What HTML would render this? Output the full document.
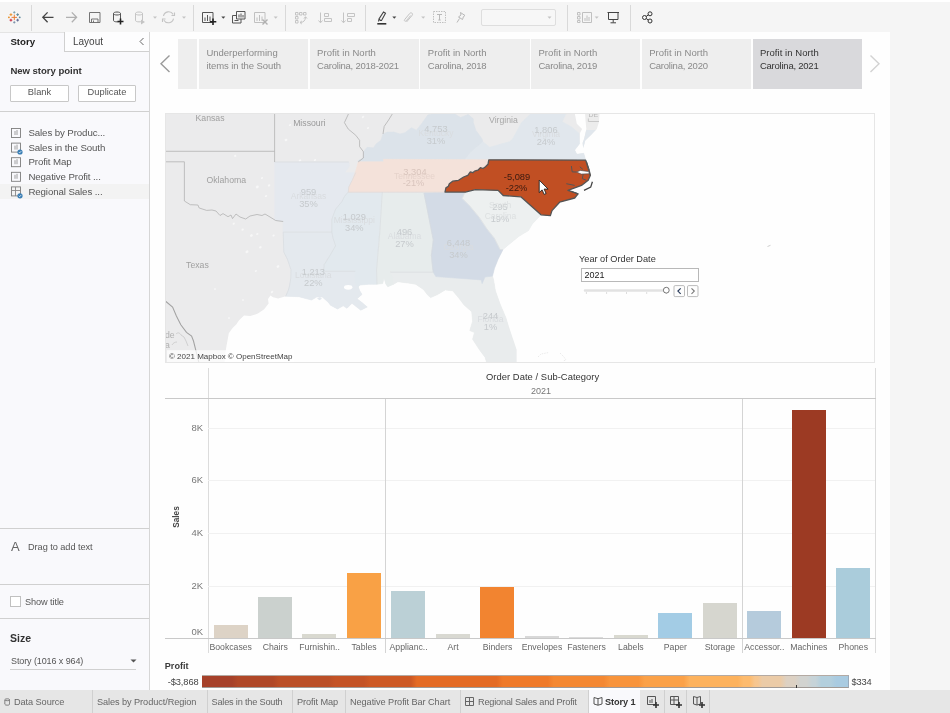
<!DOCTYPE html>
<html lang="en">
<head>
<meta charset="utf-8">
<title>Story 1 - Tableau</title>
<style>
html,body{margin:0;padding:0;}
body{width:950px;height:713px;overflow:hidden;background:#f5f5f5;font-family:"Liberation Sans",sans-serif;font-size:10px;color:#333;position:relative;}
.abs{position:absolute;}
.t{position:absolute;white-space:nowrap;line-height:12px;}
#topstrip{left:0;top:0;width:950px;height:2px;background:#fff;}
#toolbar{left:0;top:2px;width:950px;height:30px;background:#f5f5f5;}
.tsep{position:absolute;top:5px;width:1px;height:26px;background:#d9d9d9;}
#left{left:0;top:32px;width:149px;height:658px;background:#f9f9fc;border-right:1px solid #d6d6d6;box-shadow:inset 0 1px 0 #e4e4e4;}
#canvas{left:150px;top:32px;width:740px;height:658px;background:#fefefe;}
#bottombar{left:0;top:690px;width:950px;height:23px;background:#e6e6e6;}
.hr{position:absolute;left:0;width:149px;height:1px;background:#d0d0d0;}
.btn{position:absolute;top:53px;height:15px;border:1px solid #c8c8c8;background:#fff;border-radius:1px;text-align:center;line-height:13px;font-size:9.3px;color:#555;}
.sp{position:absolute;top:38.7px;height:50.7px;width:109.2px;background:#eeeeee;color:#8a8a8a;font-size:9.5px;line-height:13px;}
.sp span{position:absolute;left:7.4px;top:7.3px;white-space:nowrap;}
.li{position:absolute;left:28.4px;font-size:9.7px;letter-spacing:-0.1px;color:#555;white-space:nowrap;line-height:12px;}
.tab{position:absolute;top:0;height:23px;line-height:25px;font-size:9.2px;letter-spacing:-0.08px;color:#666;white-space:nowrap;border-right:1px solid #d0d0d0;box-sizing:border-box;}
.cat{position:absolute;top:641px;width:46px;text-align:center;font-size:8.7px;color:#666;line-height:12px;white-space:nowrap;}
.ax{position:absolute;width:20px;text-align:right;left:183px;font-size:9.5px;color:#777;line-height:12px;}
.grid{position:absolute;left:208px;width:667px;height:1px;background:#f1f1f1;}
.bar{position:absolute;width:34px;}
</style>
</head>
<body>
<div id="topstrip" class="abs"></div>
<div id="toolbar" class="abs">
<div class="tsep" style="left:31px;top:3px;"></div>
<div class="tsep" style="left:193px;top:3px;"></div>
<div class="tsep" style="left:285px;top:3px;"></div>
<div class="tsep" style="left:365px;top:3px;"></div>
<div class="tsep" style="left:567px;top:3px;"></div>
<div class="tsep" style="left:630px;top:3px;"></div>
<svg class="abs" style="left:0;top:0" width="950" height="30" viewBox="0 2 950 30">
 <!-- logo -->
 <g stroke-width="1.1" fill="none" transform="translate(14.3 17.3) scale(0.86) translate(-14.3 -17.3)">
  <path d="M14.3 14.2v6.4M11.1 17.4h6.4" stroke="#e8762c"/>
  <path d="M14.3 10.3v2.6M13 11.6h2.6" stroke="#7aa2b0"/>
  <path d="M14.3 21.9v2.6M13 23.2h2.6" stroke="#7a90a8"/>
  <path d="M10.4 12.6v3.200M8.800 14.2h3.200" stroke="#eb9129" />
  <path d="M18.2 12.6v3.200M16.600 14.2h3.200" stroke="#5b879b"/>
  <path d="M10.4 19v3.200M8.800 20.6h3.200" stroke="#c72035"/>
  <path d="M18.2 19v3.200M16.600 20.6h3.200" stroke="#5b6591"/>
  <path d="M8 16.4v2M7 17.4h2" stroke="#eb9129"/>
  <path d="M20.600 16.4v2M19.600 17.4h2" stroke="#5b879b"/>
 </g>
 <!-- back / forward -->
 <path d="M53.5 17.3H42.8M47.6 12.4L42.8 17.3L47.6 22.2" fill="none" stroke="#444" stroke-width="1.3"/>
 <path d="M66 17.3H76.6M71.8 12.4L76.6 17.3L71.8 22.2" fill="none" stroke="#b0b0b0" stroke-width="1.3"/>
 <!-- save -->
 <path d="M89.5 12.5h10.5v10h-10.5z M91.5 22.5v-3.500h6.500v3.500 M93.500 22.500v-2" fill="none" stroke="#666" stroke-width="0.9"/>
 <!-- new data source -->
 <path d="M113.5 13.5v7c0 1.8 7 1.8 7 0v-7 M113.5 13.5c0 -2 7 -2 7 0c0 2 -7 2 -7 0" fill="none" stroke="#555" stroke-width="1"/>
 <path d="M120.5 18.5v6M117.5 21.5h6" stroke="#222" stroke-width="1.6" fill="none"/>
 <!-- disabled ds -->
 <path d="M135.5 13.5v7c0 1.8 7 1.8 7 0v-7 M135.5 13.5c0 -2 7 -2 7 0c0 2 -7 2 -7 0" fill="none" stroke="#c4c4c4" stroke-width="1"/>
 <path d="M141 19.5l4 2.5l-4 2.5z" fill="#c4c4c4"/>
 <path d="M153 16.5h4l-2 2.2z" fill="#c4c4c4"/>
 <!-- refresh -->
 <path d="M163.5 16a5.2 5.2 0 0 1 9.6 -1.6 M173.5 18.6a5.2 5.2 0 0 1 -9.6 1.6" fill="none" stroke="#c4c4c4" stroke-width="1.1"/>
 <path d="M174.5 12.5v3h-3M162.5 22v-3h3" fill="none" stroke="#c4c4c4" stroke-width="1.1"/>
 <path d="M182 16.5h4l-2 2.2z" fill="#c4c4c4"/>
 <!-- new worksheet -->
 <path d="M202.5 12.5h10.5v10h-10.5z" fill="none" stroke="#555"/>
 <path d="M205 17.5v3.5M207.5 15v6M210 16.500v4.500" stroke="#555" fill="none"/>
 <path d="M213 18.500v6.500M209.800 21.700h6.500" stroke="#222" stroke-width="1.6" fill="none"/>
 <path d="M221.300 16.500h4l-2 2.200z" fill="#444"/>
 <!-- duplicate -->
 <path d="M236.500 11.500h8.500v7.500h-8.500z M232.500 15.500h4 M232.500 15.500v7.500h8.500v-4" fill="none" stroke="#555"/>
 <path d="M239 14.500v3M241 13.500v4M243 15v2.500 M234.500 20.500h4" stroke="#555" fill="none"/>
 <!-- clear -->
 <path d="M254.500 12.500h10.500v10h-10.500z" fill="none" stroke="#c0c0c0"/>
 <path d="M257 17.500v3.500M259.500 15v6M262 16.500v4.500" stroke="#c0c0c0" fill="none"/>
 <path d="M262.500 19.500l5 5M267.500 19.500l-5 5" stroke="#b0b0b0" stroke-width="1.400" fill="none"/>
 <path d="M273.700 16.500h4l-2 2.200z" fill="#c4c4c4"/>
 <!-- swap -->
 <path d="M295.500 12.500h2.500v2.500h-2.500zM299.500 12.500h2.500v2.500h-2.500zM303.500 12.500h2.500v2.500h-2.500zM295.500 16.500h2.500v2.500h-2.500zM295.500 20.500h2.500v2.500h-2.500z" fill="none" stroke="#c4c4c4"/>
 <path d="M300 22.500c3.500 0 5.500 -2 5.500 -5.500 M304 18.500l1.500 -1.800l1.500 1.800 M301.800 21l-1.800 1.500l1.800 1.500" fill="none" stroke="#c4c4c4"/>
 <!-- sort asc -->
 <path d="M320.500 12.500v10 M318.500 20.500l2 2.300l2 -2.300" fill="none" stroke="#c4c4c4"/>
 <path d="M324.500 13.500h4v3h-4zM324.500 18.500h7v3h-7z" fill="none" stroke="#c4c4c4"/>
 <!-- sort desc -->
 <path d="M343.500 12.500v10 M341.500 20.500l2 2.300l2 -2.300" fill="none" stroke="#c4c4c4"/>
 <path d="M347.500 13.500h7v3h-7zM347.500 18.500h4v3h-4z" fill="none" stroke="#c4c4c4"/>
 <!-- highlighter -->
 <path d="M380.500 20.500l-1.500 -1.500l4.500 -7l2 1.300l-4 7.200z M379 19l-0.500 2.500" fill="none" stroke="#444" stroke-width="1.100"/>
 <path d="M377.300 23.800h9" stroke="#333" stroke-width="1.600"/>
 <path d="M392.300 16.500h4l-2 2.200z" fill="#444"/>
 <!-- clip -->
 <path d="M406.500 22l5.500 -6.500c1.500 -1.800 -0.800 -3.800 -2.300 -2l-5 6c-1 1.200 0.500 2.500 1.500 1.300l4.500 -5.300" fill="none" stroke="#c4c4c4"/>
 <path d="M421.200 16.500h4l-2 2.200z" fill="#c4c4c4"/>
 <!-- T -->
 <rect x="433.500" y="11.500" width="12" height="11" fill="none" stroke="#c0c0c0" stroke-dasharray="1.500 1"/>
 <path d="M437 14.500h5M439.500 14.500v5.500M438.300 20h2.400" fill="none" stroke="#b8b8b8"/>
 <!-- pin -->
 <path d="M460.500 12.500l4.500 3l-1.500 1l-1 3l-4 -2.500l2.500 -2z M459.500 18.500l-2.500 4" fill="none" stroke="#b8b8b8"/>
 <!-- select -->
 <rect x="481.500" y="9.500" width="74" height="16" rx="1.500" fill="#f7f7f7" stroke="#dedede"/>
 <path d="M547.500 16.500h4l-2 2.200z" fill="#c4c4c4"/>
 <!-- show me -->
 <path d="M577.500 12.500h2.500v2.500h-2.500zM577.500 16.500h2.500v2.500h-2.500zM577.500 20.500h2.500v2h-2.500z M582.500 12.500h9v10h-9z" fill="none" stroke="#c0c0c0"/>
 <path d="M585 18v3M587 15.500v5.500M589 17v4" stroke="#c0c0c0" fill="none"/>
 <path d="M594.700 16.500h4l-2 2.200z" fill="#c4c4c4"/>
 <!-- presentation -->
 <path d="M607.500 12.500h11.500 M608.500 12.500v7h9.500v-7 M613.200 19.500v3 M610.500 22.800h5.500" fill="none" stroke="#444" stroke-width="1"/>
 <!-- share -->
 <circle cx="644.500" cy="17.500" r="2" fill="none" stroke="#333" stroke-width="1"/>
 <circle cx="650" cy="13.800" r="2" fill="none" stroke="#333" stroke-width="1"/>
 <circle cx="650" cy="21" r="2" fill="none" stroke="#333" stroke-width="1"/>
 <path d="M646.200 16.400l2.200 -1.500M646.200 18.600l2.200 1.400" stroke="#333" stroke-width="1"/>
</svg>

</div>
<div id="left" class="abs">
<div class="abs" style="left:64px;top:0;width:84px;height:19px;border-left:1px solid #d0d0d0;border-bottom:1px solid #d0d0d0;background:#fdfdfe;"></div>
<div class="t" style="left:10.4px;top:4px;font-weight:bold;font-size:9.7px;color:#222;">Story</div>
<div class="t" style="left:73px;top:4px;font-size:10px;color:#444;">Layout</div>
<svg class="abs" style="left:138px;top:5px" width="8" height="9" viewBox="0 0 8 9"><path d="M5.5 1 L2 4.5 L5.5 8" fill="none" stroke="#666" stroke-width="1"/></svg>
<div class="t" style="left:10.4px;top:32.8px;font-weight:bold;font-size:9.6px;letter-spacing:-0.05px;color:#333;">New story point</div>
<div class="btn" style="left:10px;width:57px;">Blank</div>
<div class="btn" style="left:78px;width:56px;">Duplicate</div>
<div class="hr" style="top:79px;"></div>
<div class="abs" style="left:0;top:152px;width:149px;height:15px;background:#f3f3f3;"></div>
<svg class="abs" style="left:10px;top:94.9px" width="14" height="72" viewBox="0 0 14 72">
 <g fill="none" stroke="#7d7d7d" stroke-width="0.9">
  <rect x="1.5" y="1.5" width="9" height="9"/><rect x="1.5" y="16.1" width="9" height="9"/><rect x="1.5" y="30.7" width="9" height="9"/><rect x="1.5" y="45.3" width="9" height="9"/><rect x="1.5" y="59.9" width="9" height="9"/>
  <path d="M1.5 63.5h9M5.5 60v9" stroke="#888"/>
 </g>
 <g stroke="#888" stroke-width="0.8">
  <path d="M5 4v4M7 3v5M5 18.6v4M7 17.6v5M5 33.2v4M7 32.2v5M5 47.8v4M7 46.8v5"/>
 </g>
 <circle cx="10" cy="25" r="2.6" fill="#3b7fb5"/><circle cx="10" cy="68.8" r="2.6" fill="#3b7fb5"/>
 <path d="M8.8 25 l0.9 0.9 l1.6 -1.8" fill="none" stroke="#fff" stroke-width="0.7"/>
 <path d="M8.8 68.8 l0.9 0.9 l1.6 -1.8" fill="none" stroke="#fff" stroke-width="0.7"/>
</svg>
<div class="li" style="top:95px;">Sales by Produc...</div>
<div class="li" style="top:110px;">Sales in the South</div>
<div class="li" style="top:124px;">Profit Map</div>
<div class="li" style="top:139px;">Negative Profit ...</div>
<div class="li" style="top:154px;">Regional Sales ...</div>
<div class="hr" style="top:496px;"></div>
<div class="t" style="left:11px;top:508px;font-size:13px;color:#666;line-height:14px;">A</div>
<div class="t" style="left:28px;top:509px;font-size:9.2px;letter-spacing:-0.05px;color:#555;">Drag to add text</div>
<div class="hr" style="top:552px;"></div>
<div class="abs" style="left:10px;top:564px;width:9px;height:9px;border:1px solid #c0c0c0;background:#fff;"></div>
<div class="t" style="left:25px;top:563px;font-size:9.2px;letter-spacing:-0.1px;color:#555;margin-top:0.5px;">Show title</div>
<div class="hr" style="top:586px;"></div>
<div class="t" style="left:10px;top:600px;font-weight:bold;font-size:10.5px;color:#333;">Size</div>
<div class="t" style="left:11px;top:623px;font-size:9px;letter-spacing:-0.1px;color:#555;">Story (1016 x 964)</div>
<div class="abs" style="left:10px;top:637px;width:126px;height:1px;background:#d0d0d0;"></div>
<svg class="abs" style="left:130px;top:627px" width="7" height="4" viewBox="0 0 7 4"><path d="M0.5 0.5h6L3.5 3.5z" fill="#555"/></svg>

</div>
<div id="canvas" class="abs"></div>
<svg class="abs" style="left:157px;top:52px" width="16" height="24" viewBox="0 0 16 24"><path d="M12.5 3.5 L4 11.8 L12.5 20" fill="none" stroke="#9a9a9a" stroke-width="1.4"/></svg>
<svg class="abs" style="left:867px;top:52px" width="16" height="24" viewBox="0 0 16 24"><path d="M3.5 3.5 L12 11.8 L3.5 20" fill="none" stroke="#d2d2d2" stroke-width="1.4"/></svg>
<div class="sp" style="left:178px;width:18.7px;"></div>
<div class="sp" style="left:199.0px;"><span><i style="font-style:normal;letter-spacing:0px">Underperforming</i><br><i style="font-style:normal;letter-spacing:-0.08px">items in the South</i></span></div>
<div class="sp" style="left:309.7px;"><span><i style="font-style:normal;letter-spacing:0.05px">Profit in North</i><br><i style="font-style:normal;letter-spacing:-0.23px">Carolina, 2018-2021</i></span></div>
<div class="sp" style="left:420.4px;"><span><i style="font-style:normal;letter-spacing:0.05px">Profit in North</i><br><i style="font-style:normal;letter-spacing:-0.23px">Carolina, 2018</i></span></div>
<div class="sp" style="left:531.1px;"><span><i style="font-style:normal;letter-spacing:0.05px">Profit in North</i><br><i style="font-style:normal;letter-spacing:-0.23px">Carolina, 2019</i></span></div>
<div class="sp" style="left:641.8px;"><span><i style="font-style:normal;letter-spacing:0.05px">Profit in North</i><br><i style="font-style:normal;letter-spacing:-0.23px">Carolina, 2020</i></span></div>
<div class="sp" style="left:752.5px;background:#d9d9dc;color:#333;"><span><i style="font-style:normal;letter-spacing:0.05px">Profit in North</i><br><i style="font-style:normal;letter-spacing:-0.23px">Carolina, 2021</i></span></div>

<svg class="abs" style="left:165px;top:113px;" width="710" height="250" viewBox="165 113 710 250">
<rect x="165" y="113" width="710" height="250" fill="#fefefe"/>
<path d="M165.0 113.0 L574.7 113.0 L576.8 123.8 L582.1 129.0 L580.0 133.0 L579.5 143.8 L574.7 150.1 L576.8 154.3 L583.7 153.3 L585.7 160.1 L588.2 168.5 L590.4 175.3 L588.2 180.3 L581.5 185.4 L574.7 187.9 L568.0 190.4 L573.1 192.1 L578.1 193.8 L574.7 198.0 L559.6 202.2 L552.0 210.6 L550.3 215.7 L541.0 214.8 L532.3 224.0 L528.5 230.6 L519.0 236.3 L509.6 243.9 L503.0 249.6 L498.2 259.0 L494.4 268.5 L492.5 276.1 L493.5 279.5 L495.4 290.8 L500.1 304.1 L505.8 317.4 L508.6 326.8 L512.4 338.2 L516.2 349.6 L516.2 363.0 L486.8 363.0 L485.0 357.2 L479.3 349.6 L472.6 339.2 L474.5 332.5 L469.8 330.6 L472.6 321.2 L471.7 311.7 L464.1 305.0 L458.4 297.5 L452.7 290.8 L445.2 289.9 L437.6 294.6 L430.7 297.5 L428.2 295.6 L423.2 289.3 L415.6 284.2 L408.0 283.0 L397.9 281.7 L393.5 284.2 L387.8 286.7 L385.9 284.2 L384.0 277.9 L382.7 283.6 L377.0 284.2 L368.4 284.3 L360.0 285.0 L358.3 286.8 L359.6 290.6 L362.0 294.4 L357.0 298.8 L362.0 302.6 L367.2 307.0 L360.8 310.2 L352.0 303.3 L347.0 308.3 L343.2 305.8 L337.5 309.0 L330.5 305.2 L328.0 302.0 L322.3 297.0 L316.6 297.0 L311.6 300.1 L299.0 296.7 L285.7 296.3 L278.1 298.4 L273.0 297.2 L270.5 295.6 L268.0 299.0 L268.6 303.5 L264.2 309.2 L257.9 313.6 L250.3 316.1 L244.0 315.5 L238.9 320.5 L236.4 324.3 L232.6 328.1 L228.8 333.2 L227.6 340.0 L226.3 347.0 L225.3 354.0 L224.5 363.0 L165.0 363.0Z" fill="#ebebec"/>
<path d="M585.0 113.0 L599.5 113.0 L599.0 121.7 L596.8 129.0 L590.5 135.4 L585.3 140.6 L583.2 148.0 L582.6 143.0 L584.2 138.5 L586.3 129.0 L585.5 120.0Z" fill="#ececec"/>
<clipPath id="landclip"><path d="M165.0 113.0 L574.7 113.0 L576.8 123.8 L582.1 129.0 L580.0 133.0 L579.5 143.8 L574.7 150.1 L576.8 154.3 L583.7 153.3 L585.7 160.1 L588.2 168.5 L590.4 175.3 L588.2 180.3 L581.5 185.4 L574.7 187.9 L568.0 190.4 L573.1 192.1 L578.1 193.8 L574.7 198.0 L559.6 202.2 L552.0 210.6 L550.3 215.7 L541.0 214.8 L532.3 224.0 L528.5 230.6 L519.0 236.3 L509.6 243.9 L503.0 249.6 L498.2 259.0 L494.4 268.5 L492.5 276.1 L493.5 279.5 L495.4 290.8 L500.1 304.1 L505.8 317.4 L508.6 326.8 L512.4 338.2 L516.2 349.6 L516.2 363.0 L486.8 363.0 L485.0 357.2 L479.3 349.6 L472.6 339.2 L474.5 332.5 L469.8 330.6 L472.6 321.2 L471.7 311.7 L464.1 305.0 L458.4 297.5 L452.7 290.8 L445.2 289.9 L437.6 294.6 L430.7 297.5 L428.2 295.6 L423.2 289.3 L415.6 284.2 L408.0 283.0 L397.9 281.7 L393.5 284.2 L387.8 286.7 L385.9 284.2 L384.0 277.9 L382.7 283.6 L377.0 284.2 L368.4 284.3 L360.0 285.0 L358.3 286.8 L359.6 290.6 L362.0 294.4 L357.0 298.8 L362.0 302.6 L367.2 307.0 L360.8 310.2 L352.0 303.3 L347.0 308.3 L343.2 305.8 L337.5 309.0 L330.5 305.2 L328.0 302.0 L322.3 297.0 L316.6 297.0 L311.6 300.1 L299.0 296.7 L285.7 296.3 L278.1 298.4 L273.0 297.2 L270.5 295.6 L268.0 299.0 L268.6 303.5 L264.2 309.2 L257.9 313.6 L250.3 316.1 L244.0 315.5 L238.9 320.5 L236.4 324.3 L232.6 328.1 L228.8 333.2 L227.6 340.0 L226.3 347.0 L225.3 354.0 L224.5 363.0 L165.0 363.0Z"/></clipPath>
<g fill="#fafafa" opacity="0.8"><ellipse cx="257.3" cy="186.9" rx="1.6" ry="1.28" transform="rotate(-35 257.3 186.9)"/><ellipse cx="269.1" cy="185.4" rx="1.3" ry="1.04" transform="rotate(-35 269.1 185.4)"/><ellipse cx="235.2" cy="155.9" rx="1.2" ry="0.96" transform="rotate(-35 235.2 155.9)"/><ellipse cx="233.7" cy="223.7" rx="1.2" ry="0.96" transform="rotate(-35 233.7 223.7)"/><ellipse cx="242.6" cy="229.6" rx="1.3" ry="1.04" transform="rotate(-35 242.6 229.6)"/><ellipse cx="251.4" cy="235.5" rx="1.5" ry="1.20" transform="rotate(-35 251.4 235.5)"/><ellipse cx="257.3" cy="234" rx="1.2" ry="0.96" transform="rotate(-35 257.3 234)"/><ellipse cx="273.6" cy="235.5" rx="1.2" ry="0.96" transform="rotate(-35 273.6 235.5)"/><ellipse cx="247" cy="251.8" rx="1.6" ry="1.28" transform="rotate(-35 247 251.8)"/><ellipse cx="260.3" cy="247.3" rx="1.4" ry="1.12" transform="rotate(-35 260.3 247.3)"/><ellipse cx="278" cy="266.5" rx="1.5" ry="1.20" transform="rotate(-35 278 266.5)"/><ellipse cx="255.9" cy="271" rx="1.1" ry="0.88" transform="rotate(-35 255.9 271)"/><ellipse cx="262" cy="178" rx="1.1" ry="0.88" transform="rotate(-35 262 178)"/><ellipse cx="266" cy="196" rx="1.2" ry="0.96" transform="rotate(-35 266 196)"/><ellipse cx="300" cy="160.5" rx="1.3" ry="1.04" transform="rotate(-35 300 160.5)"/><ellipse cx="315" cy="160" rx="1.2" ry="0.96" transform="rotate(-35 315 160)"/><ellipse cx="290" cy="125" rx="1.2" ry="0.96" transform="rotate(-35 290 125)"/><ellipse cx="286" cy="140" rx="1.4" ry="1.12" transform="rotate(-35 286 140)"/><ellipse cx="363" cy="117" rx="1.3" ry="1.04" transform="rotate(-35 363 117)"/><ellipse cx="368" cy="128" rx="1.1" ry="0.88" transform="rotate(-35 368 128)"/><ellipse cx="272" cy="292" rx="1.3" ry="1.04" transform="rotate(-35 272 292)"/><ellipse cx="243" cy="300" rx="1.0" ry="0.80" transform="rotate(-35 243 300)"/><ellipse cx="229" cy="318" rx="1.0" ry="0.80" transform="rotate(-35 229 318)"/><ellipse cx="215" cy="289" rx="1.0" ry="0.80" transform="rotate(-35 215 289)"/></g>
<path d="M595.8 130.1 L590.5 135.4 L585.3 140.6 L583.2 148.0 L582.6 143.0 L584.2 138.5 L586.3 130.0Z" fill="#e1e7ed"/>
<path d="M274.6 162.0 L348.8 162.0 L349.5 166.2 L345.0 172.5 L355.8 172.5 L352.0 180.7 L348.8 187.0 L348.2 192.1 L344.4 196.5 L341.9 201.6 L335.6 209.2 L331.8 219.3 L331.8 232.0 L283.2 232.1 L283.2 221.0 L278.0 221.0 L274.6 220.0Z" fill="#e5e9ef" stroke="#e5e9ef" stroke-width="0.6" stroke-linejoin="round"/>
<path d="M283.2 232.1 L331.8 232.0 L333.0 238.2 L335.6 245.8 L330.5 254.6 L324.2 264.7 L323.6 271.3 L355.2 271.3 L354.5 281.8 L357.0 286.8 L358.3 286.8 L359.6 290.6 L362.0 294.4 L357.0 298.8 L362.0 302.6 L367.2 307.0 L360.8 310.2 L352.0 303.3 L347.0 308.3 L343.2 305.8 L337.5 309.0 L330.5 305.2 L328.0 302.0 L322.3 297.0 L316.6 297.0 L311.6 300.1 L299.0 296.7 L285.7 296.3 L288.2 290.6 L289.5 286.0 L290.8 278.0 L291.0 269.8 L287.6 259.7 L283.8 252.0 L283.2 232.1Z" fill="#e4e9ee" stroke="#e4e9ee" stroke-width="0.6" stroke-linejoin="round"/>
<path d="M348.2 192.1 L382.3 192.1 L379.8 232.0 L376.6 269.8 L377.0 284.2 L368.4 284.3 L360.0 285.0 L358.3 286.8 L357.0 286.8 L354.5 281.8 L355.2 271.3 L323.6 271.3 L324.2 264.7 L330.5 254.6 L335.6 245.8 L333.0 238.2 L331.8 232.0 L331.8 219.3 L335.6 209.2 L341.9 201.6 L344.4 196.5 L348.2 192.1Z" fill="#e2e9ee" stroke="#e2e9ee" stroke-width="0.6" stroke-linejoin="round"/>
<path d="M382.3 192.4 L424.0 193.0 L433.3 240.0 L431.4 255.2 L432.6 267.8 L433.3 272.2 L390.3 272.2 L393.5 277.9 L393.5 284.2 L387.8 286.7 L385.9 284.2 L384.0 277.9 L382.7 283.6 L377.0 284.2 L376.6 269.8 L379.8 232.0 L382.3 192.1Z" fill="#e7ecec" stroke="#e7ecec" stroke-width="0.6" stroke-linejoin="round"/>
<path d="M433.3 272.2 L435.8 276.6 L481.2 279.9 L482.1 283.7 L485.0 277.0 L492.5 276.1 L493.5 279.5 L495.4 290.8 L500.1 304.1 L505.8 317.4 L508.6 326.8 L512.4 338.2 L516.2 349.6 L516.2 363.0 L486.8 363.0 L485.0 357.2 L479.3 349.6 L472.6 339.2 L474.5 332.5 L469.8 330.6 L472.6 321.2 L471.7 311.7 L464.1 305.0 L458.4 297.5 L452.7 290.8 L445.2 289.9 L437.6 294.6 L430.7 297.5 L428.2 295.6 L423.2 289.3 L415.6 284.2 L408.0 283.0 L397.9 281.7 L393.5 284.2 L393.5 277.9 L390.3 272.2Z" fill="#e9eced" stroke="#e9eced" stroke-width="0.6" stroke-linejoin="round"/>
<path d="M424.0 193.0 L465.3 192.1 L462.2 198.4 L469.8 206.0 L479.3 217.4 L486.8 228.7 L494.4 238.2 L500.1 249.6 L503.0 249.6 L498.2 259.0 L494.4 268.5 L492.5 276.1 L485.0 277.0 L482.1 283.7 L481.2 279.9 L435.8 276.6 L433.3 272.2 L432.6 267.8 L431.4 255.2 L433.3 240.0 L424.0 193.0Z" fill="#d3dbe6" stroke="#d3dbe6" stroke-width="0.6" stroke-linejoin="round"/>
<path d="M465.3 192.1 L475.4 189.6 L498.1 190.4 L503.2 195.5 L520.8 196.8 L541.0 214.8 L532.3 224.0 L528.5 230.6 L519.0 236.3 L509.6 243.9 L503.0 249.6 L500.1 249.6 L494.4 238.2 L486.8 228.7 L479.3 217.4 L469.8 206.0 L462.2 198.4 L465.3 192.1Z" fill="#edf0f0" stroke="#edf0f0" stroke-width="0.6" stroke-linejoin="round"/>
<path d="M464.4 159.5 L470.7 151.7 L482.7 141.6 L489.7 147.3 L501.0 144.1 L509.9 141.6 L512.6 139.0 L521.5 122.6 L531.6 113.0 L566.3 113.0 L562.1 121.7 L571.6 127.0 L579.0 133.3 L579.5 143.8 L574.7 150.1 L576.8 154.3 L583.7 153.3 L585.6 160.1 L488.4 160.1Z" fill="#e1e7ed" stroke="#e1e7ed" stroke-width="0.6" stroke-linejoin="round"/>
<path d="M363.4 151.7 L367.2 147.3 L373.4 147.9 L376.0 144.1 L381.0 140.3 L383.0 134.0 L387.4 132.1 L393.7 132.1 L400.0 134.0 L405.0 132.7 L411.4 127.7 L416.4 130.2 L421.5 123.9 L427.8 115.0 L435.4 113.0 L453.0 113.0 L460.6 117.6 L468.2 114.4 L473.3 118.8 L473.3 122.6 L475.8 130.2 L482.1 139.0 L482.7 141.6 L470.7 151.7 L464.4 159.5 L383.6 159.5 L383.6 161.8 L358.3 161.8 L358.3 160.5 L363.4 158.0Z" fill="#dce3ea" stroke="#dce3ea" stroke-width="0.6" stroke-linejoin="round"/>
<path d="M358.3 161.8 L383.6 161.8 L383.6 159.3 L488.8 159.8 L488.0 164.3 L485.5 166.8 L483.0 168.5 L480.4 167.7 L477.9 170.2 L474.5 171.1 L472.8 172.7 L470.3 171.9 L467.8 175.3 L463.6 177.0 L458.5 180.3 L452.6 181.2 L449.3 183.7 L448.4 186.2 L445.9 187.9 L445.0 192.1 L348.2 192.3 L348.8 187.0 L352.0 180.7 L355.8 170.6Z" fill="#f4e2da" stroke="#f4e2da" stroke-width="0.6" stroke-linejoin="round"/>
<path d="M355.8 172.5 L352.0 180.7 L348.8 187.0 L348.2 192.1 L344.4 196.5 L341.9 201.6 L335.6 209.2 L331.8 219.3 L331.8 232.0 L333.0 238.2 L335.6 245.8 L330.5 254.6 L324.2 264.7 L323.6 271.3 M382.3 192.1 L379.8 232.0 L376.6 269.8 L377.0 284.2 M424.0 193.0 L433.3 240.0 L431.4 255.2 L432.6 267.8 L433.3 272.2 M283.2 232.1H331.8 M323.6 271.3H355.2 M390.3 272.2H433.3 M465.3 192.1 L462.2 198.4 L469.8 206.0 L479.3 217.4 L486.8 228.7 L494.4 238.2 L500.1 249.6 L503.0 249.6 M274.6 162H348.8 M348.2 192.2H444.8 M283.2 232.1 L283.8 252.0 L287.6 259.7 L291.0 269.8 L290.8 278.0 L289.5 286.0 L288.2 290.6 L285.7 296.3" fill="none" stroke="#d6d9dc" stroke-width="0.7" opacity="0.8"/>
<ellipse cx="348.2" cy="287.3" rx="4.2" ry="2.4" fill="#fefefe"/>
<path d="M317 298.5l3 -1.5l2 1.8l-2.500 1.500z" fill="#e3e8ee"/>
<path d="M165 151.3H274.6 M274.6 113V162 M165 161.8H184.4V201 M184.4 201.0 L190.3 204.7 L197.9 205.0 L199.2 208.0 L206.7 210.4 L212.0 210.0 L216.0 211.0 L220.0 215.5 L223.0 213.6 L228.0 216.7 L231.0 215.0 L232.5 218.6 L236.0 214.0 L240.0 217.0 L245.7 219.0 L250.0 216.0 L257.0 214.5 L262.0 215.5 L265.0 214.0 L270.0 217.0 L275.7 220.5 L283.2 221.5 M348.8 113.2 L344.4 122.6 L348.2 129.0 L355.8 135.3 L359.6 140.3 L359.6 146.6 L363.4 151.7 L363.4 158.0 L358.3 161.8 M392.4 113.8 L388.6 120.0 L384.2 126.4 L383.0 134.0" fill="none" stroke="#b2b2b2" stroke-width="0.8"/>
<path d="M165.0 300.7 L172.6 307.0 L176.4 316.0 L180.8 324.7 L186.5 332.3 L191.6 336.0 L193.5 341.0 L195.4 348.7 L197.0 355.0 L199.0 363.0" fill="none" stroke="#a2a2a2" stroke-width="1.05"/>
<path d="M176 334c2 -2 4 -1 5 1l3 2l2 4l2 5 M172 345c1 -2 3 -3 5 -3" fill="none" stroke="#c4c4c4" stroke-width="0.7"/>
<path d="M445.0 192.1 L445.9 187.9 L448.4 186.2 L449.3 183.7 L452.6 181.2 L458.5 180.3 L463.6 177.0 L467.8 175.3 L470.3 171.9 L472.8 172.7 L474.5 171.1 L477.9 170.2 L480.4 167.7 L483.0 168.5 L485.5 166.8 L488.0 164.3 L488.8 159.8 L585.7 160.1 L588.2 168.5 L590.4 175.3 L588.2 180.3 L581.5 185.4 L574.7 187.9 L568.0 190.4 L573.1 192.1 L578.1 193.8 L574.7 198.0 L559.6 202.2 L552.0 210.6 L550.3 215.7 L541.0 214.8 L520.8 196.8 L503.2 195.5 L498.1 190.4 L475.4 189.6 L465.3 192.1Z" fill="#c14f23" stroke="#555" stroke-width="1.3" stroke-linejoin="round"/>
<path d="M576.4 172l4 -1.600l8.500 1.200l0.300 2.200l-8 0.300z" fill="#fefefe" stroke="#555" stroke-width="0.7"/>
<path d="M571.400 166l0.800 5.900l4.200 0.100 M579.800 166.800l3 2.500 M583.200 174.200l-0.900 4.400l4 1.700 M566.300 183.700l8.400 1.700 M571.400 191.300l6.700 2.500 M586.500 161.500l3 9l0.500 5" fill="none" stroke="#555" stroke-width="1"/>
<path d="M592.400 181.700L590.700 187.100L584 190.400" fill="none" stroke="#444" stroke-width="1.300"/>
<path d="M588.400 118.500V121.500H599" fill="none" stroke="#c0c0c0" stroke-width="0.8"/>
<path d="M538 357l3 -3l8 -1.500 M560 353l4 4l2 3l-3 1" fill="none" stroke="#e6e6e6" stroke-width="0.8" stroke-dasharray="1.5 1"/>
<path d="M767.500 246.500l3 -1.200" fill="none" stroke="#c8c8c8" stroke-width="0.9"/>
<text x="210" y="121" font-size="8.7" fill="#a0a0a0" text-anchor="middle" font-family="Liberation Sans, sans-serif" >Kansas</text>
<text x="309.3" y="126" font-size="8.7" fill="#9a9a9a" text-anchor="middle" font-family="Liberation Sans, sans-serif" >Missouri</text>
<text x="226.3" y="183.2" font-size="8.7" fill="#a0a0a0" text-anchor="middle" font-family="Liberation Sans, sans-serif" >Oklahoma</text>
<text x="197.4" y="267.8" font-size="8.7" fill="#a0a0a0" text-anchor="middle" font-family="Liberation Sans, sans-serif" >Texas</text>
<text x="489" y="123" font-size="8.7" fill="#a8a8a8" text-anchor="start" font-family="Liberation Sans, sans-serif" >Virginia</text>
<text x="165" y="337.5" font-size="8.7" fill="#b0b0b0" text-anchor="start" font-family="Liberation Sans, sans-serif" >de</text>
<text x="165" y="347.5" font-size="8.7" fill="#b0b0b0" text-anchor="start" font-family="Liberation Sans, sans-serif" >a</text>
<text x="588.4" y="117" font-size="7" fill="#b8b8b8" text-anchor="start" font-family="Liberation Sans, sans-serif" >DE</text>
<text x="308.5" y="198.5" font-size="8.5" fill="#d9dcdf" text-anchor="middle" font-family="Liberation Sans, sans-serif" >Arkansas</text>
<text x="308.5" y="195" font-size="9.3" fill="#c6cacd" text-anchor="middle" font-family="Liberation Sans, sans-serif" >959</text>
<text x="308.5" y="206.7" font-size="9.3" fill="#c6cacd" text-anchor="middle" font-family="Liberation Sans, sans-serif" >35%</text>
<text x="354.3" y="223.0" font-size="8.5" fill="#d9dcdf" text-anchor="middle" font-family="Liberation Sans, sans-serif" >Mississippi</text>
<text x="354.3" y="219.5" font-size="9.3" fill="#c6cacd" text-anchor="middle" font-family="Liberation Sans, sans-serif" >1,029</text>
<text x="354.3" y="231.2" font-size="9.3" fill="#c6cacd" text-anchor="middle" font-family="Liberation Sans, sans-serif" >34%</text>
<text x="313.3" y="278.0" font-size="8.5" fill="#d9dcdf" text-anchor="middle" font-family="Liberation Sans, sans-serif" >Louisiana</text>
<text x="313.3" y="274.5" font-size="9.3" fill="#c6cacd" text-anchor="middle" font-family="Liberation Sans, sans-serif" >1,213</text>
<text x="313.3" y="286.2" font-size="9.3" fill="#c6cacd" text-anchor="middle" font-family="Liberation Sans, sans-serif" >22%</text>
<text x="404.5" y="238.5" font-size="8.5" fill="#d9dcdf" text-anchor="middle" font-family="Liberation Sans, sans-serif" >Alabama</text>
<text x="404.5" y="235" font-size="9.3" fill="#c6cacd" text-anchor="middle" font-family="Liberation Sans, sans-serif" >496</text>
<text x="404.5" y="246.7" font-size="9.3" fill="#c6cacd" text-anchor="middle" font-family="Liberation Sans, sans-serif" >27%</text>
<text x="458.5" y="249.5" font-size="8.5" fill="#d9dcdf" text-anchor="middle" font-family="Liberation Sans, sans-serif" >Georgia</text>
<text x="458.5" y="246" font-size="9.3" fill="#c6cacd" text-anchor="middle" font-family="Liberation Sans, sans-serif" >6,448</text>
<text x="458.5" y="257.7" font-size="9.3" fill="#c6cacd" text-anchor="middle" font-family="Liberation Sans, sans-serif" >34%</text>
<text x="500" y="213.5" font-size="8.5" fill="#d9dcdf" text-anchor="middle" font-family="Liberation Sans, sans-serif" ></text>
<text x="500" y="210" font-size="9.3" fill="#c6cacd" text-anchor="middle" font-family="Liberation Sans, sans-serif" >295</text>
<text x="500" y="221.7" font-size="9.3" fill="#c6cacd" text-anchor="middle" font-family="Liberation Sans, sans-serif" >19%</text>
<text x="490.5" y="322.0" font-size="8.5" fill="#d9dcdf" text-anchor="middle" font-family="Liberation Sans, sans-serif" >Florida</text>
<text x="490.5" y="318.5" font-size="9.3" fill="#c6cacd" text-anchor="middle" font-family="Liberation Sans, sans-serif" >244</text>
<text x="490.5" y="330.2" font-size="9.3" fill="#c6cacd" text-anchor="middle" font-family="Liberation Sans, sans-serif" >1%</text>
<text x="436" y="135.5" font-size="8.5" fill="#d9dcdf" text-anchor="middle" font-family="Liberation Sans, sans-serif" >Kentucky</text>
<text x="436" y="132" font-size="9.3" fill="#c6cacd" text-anchor="middle" font-family="Liberation Sans, sans-serif" >4,753</text>
<text x="436" y="143.7" font-size="9.3" fill="#c6cacd" text-anchor="middle" font-family="Liberation Sans, sans-serif" >31%</text>
<text x="546" y="136.5" font-size="8.5" fill="#d9dcdf" text-anchor="middle" font-family="Liberation Sans, sans-serif" >Virginia</text>
<text x="546" y="133" font-size="9.3" fill="#c6cacd" text-anchor="middle" font-family="Liberation Sans, sans-serif" >1,806</text>
<text x="546" y="144.7" font-size="9.3" fill="#c6cacd" text-anchor="middle" font-family="Liberation Sans, sans-serif" >24%</text>
<text x="500" y="207.5" font-size="8.5" fill="#dde0e1" text-anchor="middle" font-family="Liberation Sans, sans-serif" >South</text>
<text x="500.5" y="218.5" font-size="8.5" fill="#dde0e1" text-anchor="middle" font-family="Liberation Sans, sans-serif" >Carolina</text>
<text x="414.5" y="178.5" font-size="8.5" fill="#e6d3cb" text-anchor="middle" font-family="Liberation Sans, sans-serif" >Tennessee</text>
<text x="415" y="175" font-size="9.3" fill="#d9c5bd" text-anchor="middle" font-family="Liberation Sans, sans-serif" >3,304</text>
<text x="413.5" y="186" font-size="9.3" fill="#d9c5bd" text-anchor="middle" font-family="Liberation Sans, sans-serif" >-21%</text>
<text x="517" y="179.8" font-size="9.3" fill="#3a1a10" text-anchor="middle" font-family="Liberation Sans, sans-serif" >-5,089</text>
<text x="516.5" y="191.3" font-size="9.3" fill="#3a1a10" text-anchor="middle" font-family="Liberation Sans, sans-serif" >-22%</text>
<rect x="167" y="350.2" width="127.500" height="12" fill="#ffffff" opacity="0.75"/>
<text x="169" y="359" font-size="8" fill="#444" text-anchor="start" font-family="Liberation Sans, sans-serif" textLength="123.500" lengthAdjust="spacingAndGlyphs">© 2021 Mapbox © OpenStreetMap</text>
<path d="M539.200 180.100v12.500l2.900 -2.700l2 4.500l2 -0.900l-2 -4.400h4z" fill="#fff" stroke="#222" stroke-width="0.9" stroke-linejoin="round"/>
</svg>
<div class="abs" style="left:165px;top:113px;width:710px;height:250px;box-sizing:border-box;border:1px solid #e6e6e6;pointer-events:none;"></div>
<div class="t" style="left:579px;top:252.500px;font-size:9.2px;color:#333;">Year of Order Date</div>
<div class="abs" style="left:581px;top:268px;width:118px;height:14px;box-sizing:border-box;border:1px solid #b8b8b8;background:#fff;"></div>
<div class="t" style="left:584.500px;top:269px;font-size:9px;color:#222;">2021</div>
<svg class="abs" style="left:580px;top:283px;" width="122" height="16" viewBox="580 283 122 16"><rect x="583.800" y="289.200" width="83" height="2.500" rx="1" fill="#e2e2e2"/><path d="M586.400 292v2M606.600 292v2M626.500 292v2M646.700 292v2M666.400 292v2" stroke="#d4d4d4" stroke-width="0.8"/><circle cx="666.300" cy="290.200" r="2.900" fill="#fff" stroke="#666" stroke-width="0.9"/><rect x="674" y="285.600" width="10.500" height="11" rx="1.200" fill="#fdfdfd" stroke="#aaa" stroke-width="0.8"/><rect x="687.500" y="285.600" width="10.500" height="11" rx="1.200" fill="#fdfdfd" stroke="#aaa" stroke-width="0.8"/><path d="M680.700 288.300l-2.800 2.800l2.800 2.800" fill="none" stroke="#2b3d5c" stroke-width="1.200"/><path d="M691.500 288.300l2.800 2.800l-2.800 2.800" fill="none" stroke="#777" stroke-width="1.100"/></svg>

<div class="abs" style="left:208px;top:368px;width:1px;height:285px;background:#dcdcdc;"></div>
<div class="abs" style="left:875px;top:368px;width:1px;height:285px;background:#dcdcdc;"></div>
<div class="grid" style="top:428px;"></div>
<div class="grid" style="top:480px;"></div>
<div class="grid" style="top:533px;"></div>
<div class="grid" style="top:586px;"></div>
<div class="abs" style="left:385px;top:398px;width:1px;height:255px;background:#d4d4d4;"></div>
<div class="abs" style="left:742px;top:398px;width:1px;height:255px;background:#d4d4d4;"></div>
<div class="abs" style="left:165px;top:398px;width:711px;height:1px;background:#c9c9c9;"></div>
<div class="bar" style="left:213.5px;top:625.2px;height:13.1px;background:#ddd3c6;"></div>
<div class="cat" style="left:207.7px;">Bookcases</div>
<div class="bar" style="left:258.0px;top:597.0px;height:41.3px;background:#cbd1ce;"></div>
<div class="cat" style="left:252.2px;">Chairs</div>
<div class="bar" style="left:302.4px;top:634.3px;height:4.0px;background:#d9d9d0;"></div>
<div class="cat" style="left:296.6px;">Furnishin..</div>
<div class="bar" style="left:346.9px;top:573.1px;height:65.2px;background:#f9a145;"></div>
<div class="cat" style="left:341.1px;">Tables</div>
<div class="bar" style="left:391.4px;top:591.0px;height:47.3px;background:#bbd0d6;"></div>
<div class="cat" style="left:385.6px;">Applianc..</div>
<div class="bar" style="left:435.9px;top:634.0px;height:4.3px;background:#d9d9d2;"></div>
<div class="cat" style="left:430.1px;">Art</div>
<div class="bar" style="left:480.3px;top:586.8px;height:51.5px;background:#f28430;"></div>
<div class="cat" style="left:474.5px;">Binders</div>
<div class="bar" style="left:524.8px;top:636.0px;height:2.3px;background:#d8d8d8;"></div>
<div class="cat" style="left:519.0px;">Envelopes</div>
<div class="bar" style="left:569.3px;top:637.0px;height:1.3px;background:#dcdcdc;"></div>
<div class="cat" style="left:563.5px;">Fasteners</div>
<div class="bar" style="left:613.7px;top:634.8px;height:3.5px;background:#d9d9d0;"></div>
<div class="cat" style="left:607.9px;">Labels</div>
<div class="bar" style="left:658.2px;top:612.5px;height:25.8px;background:#a3cce5;"></div>
<div class="cat" style="left:652.4px;">Paper</div>
<div class="bar" style="left:702.7px;top:602.8px;height:35.5px;background:#d6d6cf;"></div>
<div class="cat" style="left:696.9px;">Storage</div>
<div class="bar" style="left:747.1px;top:610.8px;height:27.5px;background:#b5cbdc;"></div>
<div class="cat" style="left:741.3px;">Accessor..</div>
<div class="bar" style="left:791.6px;top:409.7px;height:228.6px;background:#9c3a23;"></div>
<div class="cat" style="left:785.8px;">Machines</div>
<div class="bar" style="left:836.1px;top:567.9px;height:70.4px;background:#aaccdb;"></div>
<div class="cat" style="left:830.3px;">Phones</div>
<div class="abs" style="left:165px;top:638px;width:711px;height:1px;background:#c9c9c9;"></div>
<div class="ax" style="top:422px;">8K</div>
<div class="ax" style="top:474px;">6K</div>
<div class="ax" style="top:527px;">4K</div>
<div class="ax" style="top:580px;">2K</div>
<div class="ax" style="top:626px;">0K</div>
<div class="t" style="left:486px;top:371px;width:112px;text-align:center;font-size:9.4px;letter-spacing:0.05px;color:#333;">Order Date / Sub-Category</div>
<div class="t" style="left:521px;top:385px;width:40px;text-align:center;font-size:9px;color:#777;">2021</div>
<div class="t" style="left:176px;top:517px;font-size:8.3px;font-weight:bold;color:#444;transform:translate(-50%,-50%) rotate(-90deg);transform-origin:center;">Sales</div>

<div class="t" style="left:164.8px;top:659.5px;font-size:9.1px;font-weight:bold;color:#3a3a3a;">Profit</div>
<div class="t" style="left:167.7px;top:675.6px;font-size:9.3px;letter-spacing:-0.1px;color:#444;">-$3,868</div>
<div class="abs" style="left:202px;top:675.3px;width:646.5px;height:12.6px;box-sizing:border-box;border-top:1px solid #b4aaa3;border-right:1px solid #9ab;border-bottom:1px solid #a09a96;background:linear-gradient(to right,#a6412a 0.00%,#a6412a 4.64%,#b04828 5.57%,#b04828 10.98%,#bb4f27 11.91%,#bb4f27 19.64%,#c45326 20.57%,#c45326 25.06%,#cd5925 25.99%,#cd5925 32.33%,#e46b25 33.26%,#e46b25 45.63%,#ef7a2a 46.56%,#ef7a2a 53.52%,#f48832 54.45%,#f48832 62.18%,#f8943b 63.11%,#f8943b 67.59%,#fba148 68.52%,#fba148 74.56%,#fdb25d 75.48%,#fdb25d 82.91%,#fdbb6e 83.84%,#fdbb6e 84.76%,#f7c68f 85.59%,#f7c68f 85.95%,#ebcba7 86.77%,#ebcba7 89.56%,#ddd1c3 90.49%,#ddd1c3 91.72%,#d2d3d0 92.65%,#d2d3d0 93.58%,#c6d3d8 94.51%,#c6d3d8 94.97%,#b3cfdd 95.90%,#b3cfdd 97.29%,#a9cbe1 98.22%,#a9cbe1 100.00%);"></div>
<div class="abs" style="left:795.7px;top:685px;width:1px;height:3px;background:#333;"></div>
<div class="t" style="left:851.4px;top:675.6px;font-size:9.3px;letter-spacing:-0.1px;color:#444;">$334</div>

<div id="bottombar" class="abs">
<svg class="abs" style="left:3.5px;top:8px" width="6.5" height="8" viewBox="0 0 8 10"><path d="M1 2.2 v5.6 c0 1.6 6 1.6 6 0 v-5.6 M1 2.2 c0 -1.6 6 -1.6 6 0 c0 1.6 -6 1.6 -6 0" fill="none" stroke="#666" stroke-width="1"/></svg>
<div class="tab" style="left:0;width:93px;padding-left:14px;">Data Source</div>
<div class="tab" style="left:93px;width:115px;padding-left:4px;">Sales by Product/Region</div>
<div class="tab" style="left:208px;width:85px;padding-left:3.5px;letter-spacing:-0.2px;">Sales in the South</div>
<div class="tab" style="left:293px;width:53px;padding-left:4px;">Profit Map</div>
<div class="tab" style="left:346px;width:115px;padding-left:4px;">Negative Profit Bar Chart</div>
<div class="tab" style="left:461px;width:128px;padding-left:17px;letter-spacing:-0.2px;">Regional Sales and Profit</div>
<svg class="abs" style="left:465px;top:7px" width="9" height="9" viewBox="0 0 9 9"><path d="M0.5 0.5h8v8h-8zM0.5 4.5h8M4.5 0.5v8" fill="none" stroke="#666" stroke-width="1"/></svg>
<div class="tab" style="left:589px;width:51px;padding-left:16px;background:#f9f9fc;color:#333;font-weight:bold;border-right:none;">Story 1</div>
<svg class="abs" style="left:593px;top:6px" width="10" height="10" viewBox="0 0 10 10"><path d="M1 1.5 l4 1.2 l4 -1.2 v6.5 l-4 1.2 l-4 -1.2z M5 2.7v6.5" fill="none" stroke="#555" stroke-width="1"/></svg>
<div class="abs" style="left:664px;top:0;width:1px;height:23px;background:#d0d0d0;"></div>
<div class="abs" style="left:686px;top:0;width:1px;height:23px;background:#d0d0d0;"></div>
<div class="abs" style="left:709px;top:0;width:1px;height:23px;background:#d0d0d0;"></div>
<svg class="abs" style="left:646px;top:5px" width="14" height="14" viewBox="0 0 14 14"><path d="M1.5 1.5h8v8h-8z" fill="none" stroke="#555"/><path d="M4 5v3M6 4v4" stroke="#555"/><path d="M10 7v6M7 10h6" stroke="#333" stroke-width="1.6"/></svg>
<svg class="abs" style="left:669px;top:5px" width="14" height="14" viewBox="0 0 14 14"><path d="M1.5 1.5h8v8h-8zM1.5 5h8M5 1.5v8" fill="none" stroke="#555"/><path d="M10 7v6M7 10h6" stroke="#333" stroke-width="1.6"/></svg>
<svg class="abs" style="left:692px;top:5px" width="14" height="14" viewBox="0 0 14 14"><path d="M1.5 1.5 l3.5 1 l3.5 -1 v7.5 l-3.5 1 l-3.5 -1z M5 2.5v7.5" fill="none" stroke="#555"/><path d="M10 7v6M7 10h6" stroke="#333" stroke-width="1.6"/></svg>

</div>
</body>
</html>
